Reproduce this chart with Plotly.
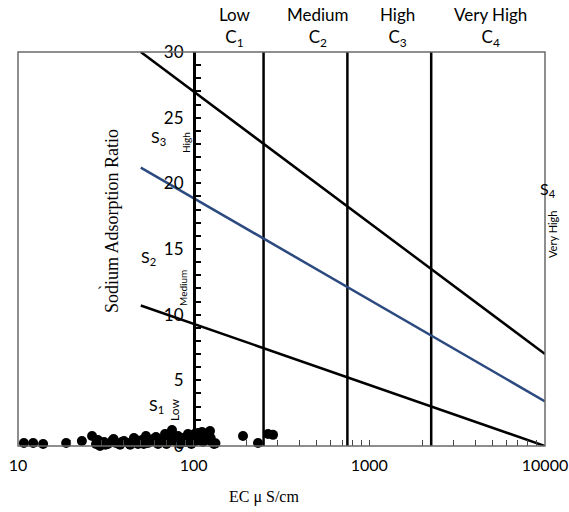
import plotly.graph_objects as go

# ---------------- data ----------------
boundary_ec = [50, 10000]
s1_s2_sar = [10.7, 0.0]
s2_s3_sar = [21.2, 3.4]
s3_s4_sar = [30.0, 7.0]
class_limits_ec = [250, 750, 2250]

sample_ec = [10.8, 12.2, 13.9, 18.8, 23.1, 26.4, 27.8, 29.3, 30.9, 32.5, 34.3, 36.1,
             38.1, 40.1, 42.3, 44.6, 45.7, 48.2, 50.8, 53.5, 55.0, 57.9, 61.0, 62.7,
             66.0, 68.7, 71.4, 73.3, 75.3, 78.3, 81.4, 83.6, 87.0, 90.4, 92.8, 95.3,
             99.1, 103.1, 105.8, 108.6, 111.5, 116.0, 120.7, 123.9, 127.2, 130.5,
             28.5, 31.5, 35.0, 39.0, 43.5, 47.0, 52.0, 59.0, 64.0, 70.0, 77.0, 85.0,
             97.0, 101.0, 113.0, 118.0, 125.0, 133.0,
             190.9, 232.4, 265.0, 283.0]
sample_sar = [0.23, 0.23, 0.15, 0.23, 0.38, 0.76, 0.15, 0.0, 0.3, 0.15, 0.38, 0.23,
              0.1, 0.38, 0.23, 0.3, 0.61, 0.15, 0.46, 0.76, 0.23, 0.38, 0.69, 0.15,
              0.46, 0.91, 0.3, 0.69, 1.22, 0.38, 0.76, 0.15, 0.61, 0.3, 0.91, 0.46,
              0.69, 0.38, 0.99, 0.46, 1.07, 0.61, 0.99, 1.14, 0.3, 0.15,
              0.46, 0.1, 0.53, 0.3, 0.1, 0.46, 0.15, 0.53, 0.3, 0.15, 0.46, 0.3,
              0.15, 0.91, 0.3, 0.46, 0.61, 0.2,
              0.76, 0.23, 0.91, 0.85]

x_tick_decades = [10, 100, 1000, 10000]
y_max = 30

# ---------------- layout helpers ----------------
W, H = 569, 512
L, R, T, B = 18, 24, 52, 66
PW, PH = W - L - R, H - T - B


def pxx(x):
    return (x - L) / PW


def pyy(y):
    return (H - B - y) / PH


minor_vals = []
for d in x_tick_decades[:-1]:
    minor_vals += [d * k for k in range(1, 10)]
minor_vals.append(x_tick_decades[-1])
tick_text = [str(v) if v in x_tick_decades else "" for v in minor_vals]

fig = go.Figure()

for v in class_limits_ec:
    fig.add_trace(go.Scatter(x=[v, v], y=[0, y_max], mode="lines",
                             line=dict(color="black", width=2.5),
                             hoverinfo="skip", showlegend=False))

fig.add_trace(go.Scatter(x=boundary_ec, y=s1_s2_sar, mode="lines",
                         line=dict(color="black", width=2.5), showlegend=False))
fig.add_trace(go.Scatter(x=boundary_ec, y=s2_s3_sar, mode="lines",
                         line=dict(color="#2c4a80", width=2.5), showlegend=False))
fig.add_trace(go.Scatter(x=boundary_ec, y=s3_s4_sar, mode="lines",
                         line=dict(color="black", width=2.5), showlegend=False))

fig.add_trace(go.Scatter(x=sample_ec, y=sample_sar, mode="markers",
                         marker=dict(color="black", size=10),
                         cliponaxis=False, showlegend=False))

sans = "Lato"
serif = "Liberation Serif"

fig.update_layout(
    width=W, height=H,
    margin=dict(l=L, r=R, t=T, b=B, pad=0, autoexpand=False),
    paper_bgcolor="white", plot_bgcolor="white",
    xaxis=dict(type="log", range=[1, 4], showgrid=False, zeroline=False,
               showline=False, ticks="inside", ticklen=6, tickwidth=1.2,
               tickcolor="#444", tickvals=minor_vals, ticktext=tick_text,
               tickfont=dict(family=sans, size=16, color="black"),
               ticklabelstandoff=8, automargin=False),
    yaxis=dict(range=[0, y_max], anchor="free", position=1/3,
               showgrid=False, zeroline=False, showline=True,
               linecolor="black", linewidth=2.5,
               ticks="inside", ticklen=6, tickwidth=1.5, tickcolor="black",
               tick0=0, dtick=5,
               minor=dict(dtick=1, ticks="inside", ticklen=6, tickwidth=1.5,
                          tickcolor="black"),
               tickfont=dict(family=sans, size=17, color="black"),
               ticklabelstandoff=6, automargin=False),
    shapes=[dict(type="rect", xref="paper", yref="paper", x0=0, x1=1, y0=0, y1=1,
                 line=dict(color="#6a6a6a", width=1.5), layer="above")],
)

ann = []


def add(text, x, y, size=17, family=sans, angle=0, **kw):
    ann.append(dict(text=text, x=pxx(x), y=pyy(y), xref="paper", yref="paper",
                    showarrow=False, textangle=angle,
                    font=dict(family=family, size=size, color="black"),
                    xanchor="center", yanchor="middle", **kw))


add("Low<br>C<sub>1</sub>", 235, 27)
add("Medium<br>C<sub>2</sub>", 318, 27)
add("High<br>C<sub>3</sub>", 397, 27)
add("Very High<br>C<sub>4</sub>", 490, 27)

add("S<sub>3</sub>", 158, 137, size=16)
add("High", 186, 143, size=10, angle=-90)
add("S<sub>2</sub>", 148, 257, size=16)
add("Medium", 183, 288, size=10, angle=-90)
add("S<sub>1</sub>", 156, 405, size=16)
add("Low", 174, 410, size=12, angle=-90)
add("S<sub>4</sub>", 548, 189, size=16)
add("Very High", 552, 235, size=11, angle=-90)

add("Sodium Adsorption Ratio", 112, 221, size=18, family=serif, angle=-90)
add("´", 99, 292, size=16, family=serif)
add("EC \u03bc S/cm", 264, 497, size=16, family=serif)

fig.update_layout(annotations=ann)

fig.write_html("out.html")
